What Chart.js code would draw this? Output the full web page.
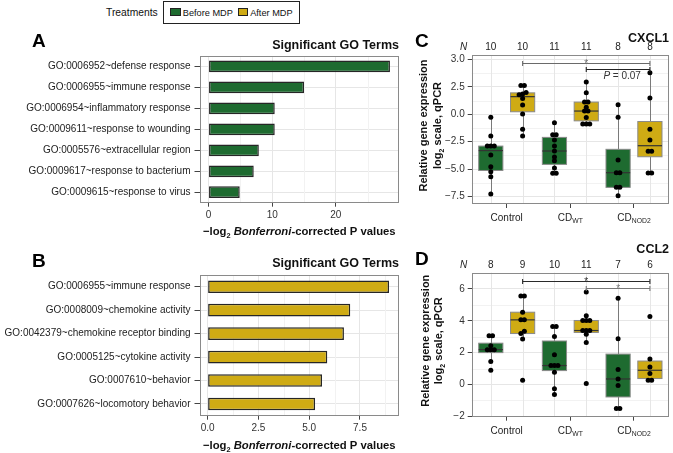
<!DOCTYPE html>
<html>
<head>
<meta charset="utf-8">
<script src="https://cdn.jsdelivr.net/npm/chart.js@4.4.1/dist/chart.umd.min.js"></script>
<style>
body { margin: 0; background: #fff; width: 673px; height: 453px; position: relative; overflow: hidden; font-family: "Liberation Sans", Arial, sans-serif; }
canvas { position: absolute; }
.lg { position: absolute; color: #111; white-space: nowrap; line-height: 10px; }
.sw { position: absolute; box-sizing: border-box; border: 1px solid #222; }
</style>
</head>
<body>
<div class="lg" id="lgTitle" style="left:106px;top:7.5px;font-size:10.3px"></div>
<div id="lgBox" style="position:absolute;left:163px;top:1px;width:135px;height:21px;border:1px solid #222"></div>
<canvas id="cA" width="405" height="210" style="left:0;top:30px"></canvas>
<canvas id="cB" width="405" height="213" style="left:0;top:240px"></canvas>
<canvas id="cC" width="273" height="210" style="left:400px;top:30px"></canvas>
<canvas id="cD" width="273" height="213" style="left:400px;top:240px"></canvas>
<script>
"use strict";

// ---------- data ----------
const treatments = ["Before MDP", "After MDP"];
const legendTitle = "Treatments";
const goTitle = "Significant GO Terms";

// panel A (before MDP)
const termsA = ["GO:0006952~defense response", "GO:0006955~immune response", "GO:0006954~inflammatory response",
    "GO:0009611~response to wounding", "GO:0005576~extracellular region", "GO:0009617~response to bacterium",
    "GO:0009615~response to virus"];
const scoresA = [28.5, 15.0, 10.4, 10.4, 7.9, 7.1, 4.9];
const ticksA = [0, 10, 20];
const minorA = [5, 15, 25];

// panel B (after MDP)
const termsB = ["GO:0006955~immune response", "GO:0008009~chemokine activity", "GO:0042379~chemokine receptor binding",
    "GO:0005125~cytokine activity", "GO:0007610~behavior", "GO:0007626~locomotory behavior"];
const scoresB = [8.93, 7.02, 6.71, 5.89, 5.63, 5.29];
const ticksB = [0, 2.5, 5, 7.5];
const minorB = [1.25, 3.75, 6.25, 8.75];

// groups on the qPCR panels
const groupNames = ["Control", "CD", "CD"];
const groupSubs = ["", "WT", "NOD2"];

// panel C, CXCL1
const cxcl1CtrlBefore = [-0.27, -1.98, -2.9, -2.9, -2.9, -3.72, -4.79, -5.24, -5.70, -7.28];
const cxcl1CtrlAfter = [2.63, 2.63, 2.0, 1.85, 1.78, 1.45, 0.85, 0.03, -1.37, -1.98];
const cxcl1WtBefore = [-0.77, -1.86, -1.86, -2.35, -2.9, -3.35, -3.9, -4.24, -4.9, -5.39, -5.39];
const cxcl1WtAfter = [2.95, 1.97, 1.12, 1.12, 0.64, 0.3, 0.3, -0.3, -0.89, -0.89, -0.89];
const cxcl1NodBefore = [0.88, -0.27, -4.17, -5.33, -5.33, -6.67, -6.67, -7.43];
const cxcl1NodAfter = [3.8, 1.49, -1.37, -2.35, -3.38, -3.38, -5.36, -5.36];
const cxcl1N = [10, 10, 11, 11, 8, 8];
const cxcl1Ticks = [-7.5, -5, -2.5, 0, 2.5, 5];
const cxcl1TickLabels = ["\u22127.5", "\u22125.0", "\u22122.5", "0.0", "2.5", "3.0"];
const cxcl1Minor = [-6.25, -3.75, -1.25, 1.25, 3.75];
const cxcl1SigFrom = [2, 4];
const cxcl1SigTo = [6, 6];
const cxcl1SigY = [4.71, 4.11];
const cxcl1SigText = ["*", "P = 0.07"];

// panel D, CCL2
const ccl2CtrlBefore = [3.06, 3.06, 2.44, 2.19, 2.19, 2.19, 1.44, 0.89];
const ccl2CtrlAfter = [5.56, 5.56, 4.54, 4.06, 4.06, 3.35, 3.2, 2.85, 0.27];
const ccl2WtBefore = [3.65, 3.65, 3.02, 1.87, 1.19, 1.19, 1.19, 0.77, -0.27, -0.63];
const ccl2WtAfter = [5.81, 4.31, 4.02, 4.02, 4.02, 3.39, 3.39, 3.39, 3.15, 2.64, 0.06];
const ccl2NodBefore = [5.42, 2.88, 0.94, 0.35, -0.06, -1.5, -1.5];
const ccl2NodAfter = [4.27, 1.6, 1.1, 0.69, 0.27, 0.27];
const ccl2N = [8, 9, 10, 11, 7, 6];
const ccl2Ticks = [-2, 0, 2, 4, 6];
const ccl2TickLabels = ["\u22122", "0", "2", "4", "6"];
const ccl2Minor = [-1, 1, 3, 5];
const ccl2SigFrom = [2, 4];
const ccl2SigTo = [6, 6];
const ccl2SigY = [6.48, 6.08];
const ccl2SigText = ["*", "*"];

// ---------- style ----------
const FONT = '"Liberation Sans", Arial, Helvetica, sans-serif';
const green = "#1e6b30";
const gold = "#cfab14";
const frameColor = "#8a8a8a";
const gridMajor = "#e6e6e6";
const gridMinor = "#f2f2f2";
const tickCol = "#444";

Chart.defaults.font.family = FONT;
Chart.defaults.color = "#222";

// legend
document.getElementById("lgTitle").textContent = legendTitle;
let lgX = [170.3, 237.7];
treatments.forEach((t, i) => {
    let sw = document.createElement("div");
    sw.className = "sw";
    sw.style.cssText = "left:" + lgX[i] + "px;top:8px;width:10.5px;height:8px;background:" + (i == 0 ? green : gold);
    document.body.appendChild(sw);
    let lb = document.createElement("div");
    lb.className = "lg";
    lb.style.cssText = "left:" + (lgX[i] + 12.5) + "px;top:7.5px;font-size:9.2px";
    lb.textContent = t;
    document.body.appendChild(lb);
});

// text with sub/italic pieces, centred on cx, baseline at by
function drawRich(ctx, segs, cx, by, align)
{
    let w = 0;
    segs.forEach(s => { ctx.font = s.font; w += ctx.measureText(s.t).width; });
    let xx = align == "right" ? cx - w : cx - w / 2;
    ctx.textAlign = "left";
    ctx.textBaseline = "alphabetic";
    segs.forEach(s => {
        ctx.font = s.font;
        ctx.fillText(s.t, xx, by + (s.dy || 0));
        xx += ctx.measureText(s.t).width;
    });
}

function xTitleSegs(sz)
{
    return [
        { t: "\u2212log", font: "bold " + sz + "px " + FONT },
        { t: "2", font: "bold " + (sz * 0.65) + "px " + FONT, dy: 3 },
        { t: " ", font: "bold " + sz + "px " + FONT },
        { t: "Bonferroni", font: "italic bold " + sz + "px " + FONT },
        { t: "-corrected P values", font: "bold " + sz + "px " + FONT },
    ];
}

function vline(ctx, x, y1, y2)
{
    ctx.beginPath(); ctx.moveTo(x, y1); ctx.lineTo(x, y2); ctx.stroke();
}
function hline(ctx, x1, x2, y)
{
    ctx.beginPath(); ctx.moveTo(x1, y); ctx.lineTo(x2, y); ctx.stroke();
}

function drawFrame(ctx, ca)
{
    ctx.strokeStyle = frameColor;
    ctx.lineWidth = 1;
    let l = Math.round(ca.left) + 0.5, t = Math.round(ca.top) + 0.5;
    let r = Math.round(ca.right) - 0.5, b = Math.round(ca.bottom) - 0.5;
    ctx.strokeRect(l, t, r - l, b - t);
}

// ---------- bar panels ----------
function barDecor(cfg)
{
    return {
        id: "barDecor",
        beforeDatasetsDraw(chart) {
            let ctx = chart.ctx, ca = chart.chartArea, x = chart.scales.x;
            ctx.save();
            ctx.strokeStyle = gridMinor;
            ctx.lineWidth = 1;
            cfg.minor.forEach(v => vline(ctx, Math.round(x.getPixelForValue(v)) + 0.5, ca.top, ca.bottom));
            ctx.restore();
        },
        afterDraw(chart) {
            let ctx = chart.ctx, ca = chart.chartArea;
            ctx.save();
            drawFrame(ctx, ca);
            ctx.fillStyle = "#000";
            ctx.font = "bold 19px " + FONT;
            ctx.textAlign = "left";
            ctx.textBaseline = "alphabetic";
            ctx.fillText(cfg.letter, 32, cfg.letterY);
            ctx.fillStyle = "#111";
            ctx.font = "bold 12.5px " + FONT;
            ctx.textAlign = "right";
            ctx.textBaseline = "middle";
            ctx.fillText(goTitle, ca.right, cfg.titleY);
            drawRich(ctx, xTitleSegs(11.3), (ca.left + ca.right) / 2, cfg.xTitleY);
            ctx.restore();
        }
    };
}

function barChart(id, labels, values, fill, cfg)
{
    return new Chart(document.getElementById(id), {
        type: "bar",
        data: {
            labels: labels,
            datasets: [{ data: values, backgroundColor: fill, borderColor: "#262626", borderWidth: 1.5,
                borderSkipped: false, barPercentage: cfg.barPct, categoryPercentage: 1 }],
        },
        options: {
            indexAxis: "y",
            responsive: false,
            animation: false,
            events: [],
            layout: { padding: { top: cfg.top, right: 6, left: 0, bottom: 0 } },
            plugins: { legend: { display: false }, tooltip: { enabled: false } },
            scales: {
                x: {
                    type: "linear", min: cfg.min, max: cfg.max,
                    afterBuildTicks: s => { s.ticks = cfg.ticks.map(v => ({ value: v })); },
                    afterFit: s => { s.height = cfg.axisH; },
                    ticks: { font: { size: 10 }, color: "#333", padding: 3, callback: v => cfg.fmt(v) },
                    grid: { color: gridMajor, tickColor: tickCol, tickLength: 4 },
                    border: { display: false },
                },
                y: {
                    afterFit: s => { s.width = 199.5; },
                    ticks: { font: { size: 10 }, color: "#222", padding: 4, autoSkip: false },
                    grid: { offset: false, color: gridMajor, tickColor: tickCol, tickLength: 5 },
                    border: { display: false },
                },
            },
        },
        plugins: [barDecor(cfg)],
    });
}

barChart("cA", termsA, scoresA, green, {
    top: 26, axisH: 37.3, min: -1.42, max: 29.92, ticks: ticksA, minor: minorA, barPct: 0.56,
    fmt: v => String(v), letter: "A", letterY: 17, titleY: 16, xTitleY: 205,
});
barChart("cB", termsB, scoresB, gold, {
    top: 35, axisH: 37.3, min: -0.4, max: 9.42, ticks: ticksB, minor: minorB, barPct: 0.54,
    fmt: v => v.toFixed(1), letter: "B", letterY: 26.7, titleY: 23.3, xTitleY: 209,
});

// ---------- box panels ----------
function quantile(s, p)
{
    let pos = (s.length - 1) * p, lo = Math.floor(pos), hi = Math.ceil(pos);
    return s[lo] + (s[hi] - s[lo]) * (pos - lo);
}

function boxStats(vals)
{
    let s = [...vals].sort((a, b) => a - b);
    let q1 = quantile(s, 0.25), med = quantile(s, 0.5), q3 = quantile(s, 0.75);
    let iqr = q3 - q1;
    let lo = s.find(v => v >= q1 - 1.5 * iqr);
    let hi = [...s].reverse().find(v => v <= q3 + 1.5 * iqr);
    return { q1: q1, med: med, q3: q3, lo: lo, hi: hi };
}

// spread near-equal values sideways (beeswarm-like, no randomness)
function swarm(vals, pos, gap, step)
{
    let s = [...vals].sort((a, b) => a - b);
    let out = [], grp = [];
    let flush = () => {
        grp.forEach((v, i) => out.push({ x: pos + (i - (grp.length - 1) / 2) * step, y: v }));
        grp = [];
    };
    s.forEach(v => {
        if (grp.length && v - grp[grp.length - 1] > gap) flush();
        grp.push(v);
    });
    flush();
    return out;
}

function boxDecor(cfg)
{
    return {
        id: "boxDecor",
        beforeDatasetsDraw(chart) {
            let ctx = chart.ctx, ca = chart.chartArea, x = chart.scales.x, y = chart.scales.y;
            ctx.save();
            ctx.lineWidth = 1;
            ctx.strokeStyle = gridMinor;
            cfg.minor.forEach(v => hline(ctx, ca.left, ca.right, Math.round(y.getPixelForValue(v)) + 0.5));
            ctx.strokeStyle = gridMajor;
            cfg.boxes.forEach((b, i) => vline(ctx, Math.round(x.getPixelForValue(i + 1)) + 0.5, ca.top, ca.bottom));
            cfg.boxes.forEach((vals, i) => {
                let st = boxStats(vals);
                let xc = Math.round(x.getPixelForValue(i + 1)) + 0.5;
                let xl = x.getPixelForValue(i + 1 - 0.38), xr = x.getPixelForValue(i + 1 + 0.38);
                ctx.strokeStyle = "#7a7a7a";
                vline(ctx, xc, y.getPixelForValue(st.hi), y.getPixelForValue(st.q3));
                vline(ctx, xc, y.getPixelForValue(st.q1), y.getPixelForValue(st.lo));
                let yt = y.getPixelForValue(st.q3), yb = y.getPixelForValue(st.q1);
                ctx.fillStyle = i % 2 == 0 ? green : gold;
                ctx.fillRect(xl, yt, xr - xl, yb - yt);
                ctx.strokeStyle = "#8a8a8a";
                ctx.strokeRect(xl, yt, xr - xl, yb - yt);
                ctx.strokeStyle = "#333";
                ctx.lineWidth = 1.2;
                hline(ctx, xl, xr, y.getPixelForValue(st.med));
                ctx.lineWidth = 1;
            });
            ctx.restore();
        },
        afterDraw(chart) {
            let ctx = chart.ctx, ca = chart.chartArea, x = chart.scales.x, y = chart.scales.y;
            ctx.save();
            drawFrame(ctx, ca);

            // letter and gene name
            ctx.fillStyle = "#000";
            ctx.font = "bold 19px " + FONT;
            ctx.textAlign = "left";
            ctx.textBaseline = "alphabetic";
            ctx.fillText(cfg.letter, 15, cfg.letterY);
            ctx.fillStyle = "#111";
            ctx.font = "bold 12.5px " + FONT;
            ctx.textAlign = "right";
            ctx.textBaseline = "middle";
            ctx.fillText(cfg.gene, ca.right, cfg.geneY);

            // N row
            ctx.fillStyle = "#222";
            ctx.textAlign = "center";
            ctx.font = "italic 10px " + FONT;
            ctx.fillText("N", ca.left - 8, cfg.nY);
            ctx.font = "10px " + FONT;
            cfg.n.forEach((n, i) => ctx.fillText(String(n), x.getPixelForValue(i + 1), cfg.nY));

            // significance brackets
            cfg.sigFrom.forEach((f, i) => {
                let x1 = x.getPixelForValue(f), x2 = x.getPixelForValue(cfg.sigTo[i]);
                let yy = Math.round(y.getPixelForValue(cfg.sigY[i])) + 0.5;
                ctx.strokeStyle = cfg.sigColors[i];
                ctx.lineWidth = 1.1;
                hline(ctx, x1, x2, yy);
                vline(ctx, x1, yy - 2.5, yy + 2.5);
                vline(ctx, x2, yy - 2.5, yy + 2.5);
                ctx.fillStyle = cfg.sigColors[i];
                let t = cfg.sigText[i];
                if (t == "*") {
                    ctx.font = "10px " + FONT;
                    ctx.textAlign = "center";
                    ctx.textBaseline = "alphabetic";
                    ctx.fillText(t, (x1 + x2) / 2, yy + 3);
                } else {
                    ctx.fillStyle = "#333";
                    drawRich(ctx, [
                        { t: t.charAt(0), font: "italic 10px " + FONT },
                        { t: t.slice(1), font: "10px " + FONT },
                    ], x2 - 9, yy + 9, "right");
                }
            });

            // group labels with subscripts
            ctx.fillStyle = "#222";
            groupNames.forEach((g, i) => {
                let cx = x.getPixelForValue(2 * i + 1.5);
                let segs = [{ t: g, font: "10px " + FONT }];
                if (groupSubs[i]) segs.push({ t: groupSubs[i], font: "6.8px " + FONT, dy: 2.5 });
                drawRich(ctx, segs, cx, cfg.catY);
            });

            // y title, two rotated lines
            let cy = (ca.top + ca.bottom) / 2 - 4;
            let lines = [
                [{ t: "Relative gene expression", font: "bold 11px " + FONT }],
                [{ t: "log", font: "bold 11px " + FONT }, { t: "2", font: "bold 7px " + FONT, dy: 3 },
                 { t: " scale, qPCR", font: "bold 11px " + FONT }],
            ];
            ctx.fillStyle = "#111";
            lines.forEach((segs, i) => {
                ctx.save();
                ctx.translate(cfg.yTitleX[i], cy);
                ctx.rotate(-Math.PI / 2);
                drawRich(ctx, segs, 0, 4);
                ctx.restore();
            });
            ctx.restore();
        }
    };
}

function boxChart(id, cfg)
{
    let pts = [];
    cfg.boxes.forEach((vals, i) => swarm(vals, i + 1, cfg.gap, 0.11).forEach(p => pts.push(p)));
    return new Chart(document.getElementById(id), {
        type: "scatter",
        data: { datasets: [{ data: pts, pointRadius: 2.5, pointBackgroundColor: "#000", pointBorderWidth: 0 }] },
        options: {
            responsive: false,
            animation: false,
            events: [],
            layout: { padding: { top: cfg.top, right: 1, left: 0, bottom: 0 } },
            plugins: { legend: { display: false }, tooltip: { enabled: false } },
            scales: {
                x: {
                    type: "linear", min: 0.4, max: 6.6,
                    afterBuildTicks: s => { s.ticks = [1.5, 3.5, 5.5].map(v => ({ value: v })); },
                    afterFit: s => { s.height = cfg.axisH; },
                    ticks: { display: false },
                    grid: { drawOnChartArea: false, tickColor: tickCol, tickLength: 4 },
                    border: { display: false },
                },
                y: {
                    type: "linear", min: cfg.yMin, max: cfg.yMax,
                    afterBuildTicks: s => { s.ticks = cfg.yTicks.map(v => ({ value: v })); },
                    afterFit: s => { s.width = 71.7; },
                    ticks: { font: { size: 10 }, color: "#333", padding: 3, callback: (v, i) => cfg.yLabels[i] },
                    grid: { color: gridMajor, tickColor: tickCol, tickLength: 4 },
                    border: { display: false },
                },
            },
        },
        plugins: [boxDecor(cfg)],
    });
}

boxChart("cC", {
    boxes: [cxcl1CtrlBefore, cxcl1CtrlAfter, cxcl1WtBefore, cxcl1WtAfter, cxcl1NodBefore, cxcl1NodAfter],
    n: cxcl1N, yTicks: cxcl1Ticks, yLabels: cxcl1TickLabels, minor: cxcl1Minor,
    sigFrom: cxcl1SigFrom, sigTo: cxcl1SigTo, sigY: cxcl1SigY, sigText: cxcl1SigText, sigColors: ["#6a6a6a", "#222"],
    yMin: -8.19, yMax: 5.42, top: 25, axisH: 36, gap: 0.3,
    letter: "C", letterY: 17, gene: "CXCL1", geneY: 9, nY: 17.5, catY: 190.5, yTitleX: [23, 36.7],
});
boxChart("cD", {
    boxes: [ccl2CtrlBefore, ccl2CtrlAfter, ccl2WtBefore, ccl2WtAfter, ccl2NodBefore, ccl2NodAfter],
    n: ccl2N, yTicks: ccl2Ticks, yLabels: ccl2TickLabels, minor: ccl2Minor,
    sigFrom: ccl2SigFrom, sigTo: ccl2SigTo, sigY: ccl2SigY, sigText: ccl2SigText, sigColors: ["#2a2a2a", "#777"],
    yMin: -2.02, yMax: 7.02, top: 32.7, axisH: 36.3, gap: 0.2,
    letter: "D", letterY: 25, gene: "CCL2", geneY: 10, nY: 25.7, catY: 193.5, yTitleX: [25, 37.5],
});
</script>
</body>
</html>
